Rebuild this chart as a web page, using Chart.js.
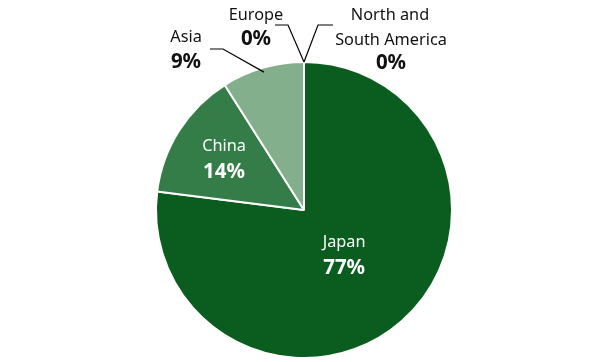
<!DOCTYPE html>
<html><head><meta charset="utf-8">
<script src="https://cdn.jsdelivr.net/npm/chart.js@4"></script>
<style>html,body{margin:0;padding:0;background:#fff}#wrap{width:600px;height:362px}</style>
</head><body><div id="wrap"><canvas id="c" width="600" height="362"></canvas></div>
<script>
const categories = ["Japan", "China", "Asia", "Europe", "North and\nSouth America"];
const shares = [77, 14, 9, 0, 0];
const shareLabels = ["77%", "14%", "9%", "0%", "0%"];
const colors = ["#0a5d1f", "#357d48", "#84af8c", "#84af8c", "#0a5d1f"];

const FONT = "'Noto Sans', 'Open Sans', sans-serif";
const NAME_FONT = '16.3px ' + FONT;
const PCT_FONT = 'bold 20.5px ' + FONT;

const labelPlugin = {
  id: 'pieLabels',
  afterDatasetsDraw(chart) {
    const ctx = chart.ctx;
    const meta = chart.getDatasetMeta(0);
    const a0 = meta.data[0];
    const cx = a0.x, cy = a0.y, R = a0.outerRadius;
    ctx.save();
    ctx.textAlign = 'center';
    ctx.textBaseline = 'middle';
    // inside labels
    const inside = {0: 0.41, 1: 0.64};
    Object.keys(inside).forEach(k => {
      const i = +k; const arc = meta.data[i];
      const mid = (arc.startAngle + arc.endAngle) / 2;
      const r = R * inside[k];
      const x = cx + r * Math.cos(mid), y = cy + r * Math.sin(mid);
      ctx.fillStyle = '#ffffff';
      ctx.font = NAME_FONT;
      ctx.fillText(categories[i], x, y - 13);
      ctx.font = PCT_FONT;
      ctx.fillText(shareLabels[i], x, y + 13);
    });
    // outside labels with leader lines
    ctx.strokeStyle = '#000';
    ctx.lineWidth = 1.2;
    ctx.fillStyle = '#111';
    function leader(pts) {
      ctx.beginPath();
      ctx.moveTo(pts[0][0], pts[0][1]);
      for (let j = 1; j < pts.length; j++) ctx.lineTo(pts[j][0], pts[j][1]);
      ctx.stroke();
    }
    // Asia
    {
      const arc = meta.data[2];
      const mid = (arc.startAngle + arc.endAngle) / 2;
      const sx = cx + R * 0.97 * Math.cos(mid), sy = cy + R * 0.97 * Math.sin(mid);
      leader([[sx, sy], [cx - 81, cy - 161], [cx - 94, cy - 161]]);
      ctx.font = NAME_FONT;
      ctx.fillText(categories[2], cx - 118, cy - 173);
      ctx.font = PCT_FONT;
      ctx.fillText(shareLabels[2], cx - 118, cy - 148);
    }
    // Europe
    {
      const arc = meta.data[3];
      const sx = cx + R * Math.cos(arc.startAngle), sy = cy + R * Math.sin(arc.startAngle);
      leader([[sx, sy], [cx - 16, cy - 185], [cx - 29, cy - 185]]);
      ctx.font = NAME_FONT;
      ctx.fillText(categories[3], cx - 48, cy - 195);
      ctx.font = PCT_FONT;
      ctx.fillText(shareLabels[3], cx - 48, cy - 171);
    }
    // North and South America
    {
      const arc = meta.data[4];
      const sx = cx + R * Math.cos(arc.startAngle), sy = cy + R * Math.sin(arc.startAngle);
      leader([[sx, sy], [cx + 14, cy - 185], [cx + 29, cy - 185]]);
      const lines = categories[4].split('\n');
      ctx.font = NAME_FONT;
      ctx.fillText(lines[0], cx + 86, cy - 195);
      ctx.fillText(lines[1], cx + 87, cy - 170);
      ctx.font = PCT_FONT;
      ctx.fillText(shareLabels[4], cx + 87, cy - 147);
    }
    ctx.restore();
  }
};

new Chart(document.getElementById('c'), {
  type: 'pie',
  data: {
    labels: categories,
    datasets: [{
      data: shares,
      backgroundColor: colors,
      borderColor: '#ffffff',
      borderWidth: 2
    }]
  },
  options: {
    responsive: false,
    animation: false,
    layout: { padding: { top: 61, bottom: 3, left: 8, right: 0 } },
    plugins: { legend: { display: false }, tooltip: { enabled: false } }
  },
  plugins: [labelPlugin]
});
</script>
</body></html>
